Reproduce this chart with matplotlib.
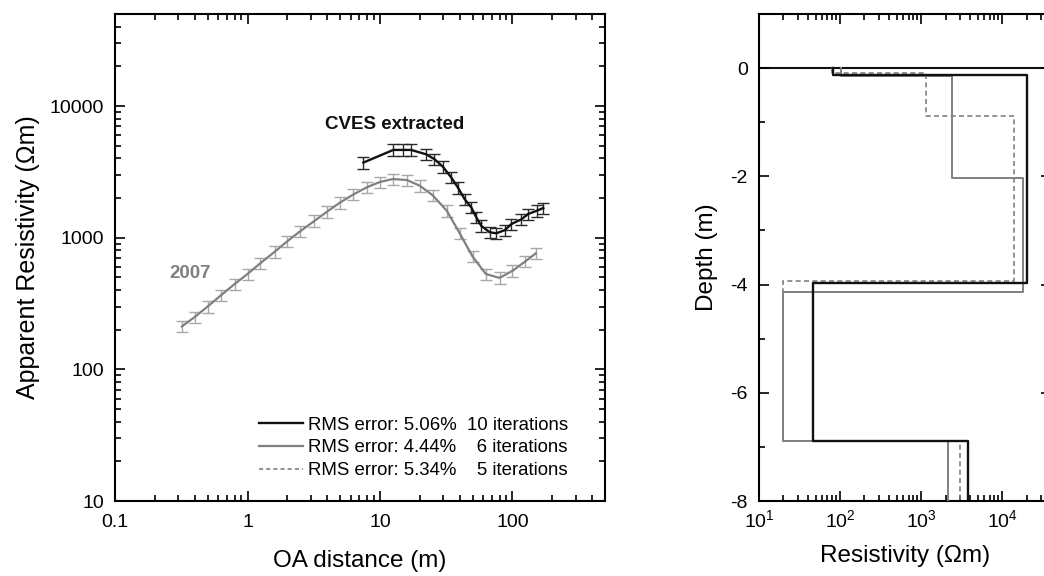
#!/usr/bin/env python3
"""Apparent resistivity sounding curves and inverted layer models."""

import matplotlib
matplotlib.use("Agg")
import matplotlib.pyplot as plt
import numpy as np
from matplotlib.lines import Line2D
from matplotlib.ticker import LogLocator, NullFormatter, FixedLocator

plt.rcParams["font.family"] = ["Liberation Sans", "DejaVu Sans"]
plt.rcParams["axes.unicode_minus"] = False
plt.rcParams["mathtext.fontset"] = "custom"
plt.rcParams["mathtext.rm"] = "Liberation Sans"

# --- sounding curves (left panel) ---
oa_2007 = [0.32, 0.4, 0.5, 0.63, 0.8, 1.0, 1.25, 1.6, 2.0, 2.5, 3.2, 4.0, 5.0, 6.3,
           8.0, 10, 12.5, 16, 20, 25, 32, 40, 50, 63, 80, 100, 125, 150]
rho_2007 = [212, 250, 300, 365, 445, 530, 640, 780, 940, 1120, 1340, 1580, 1850, 2130,
            2420, 2650, 2790, 2740, 2480, 2100, 1600, 1080, 720, 530, 495, 560, 660, 760]

oa_cves = [7.5, 12.6, 14.9, 17.2, 22.3, 25.8, 29.9, 34.5, 38.8, 43.6, 48.9, 53.3,
           58.2, 67.3, 75.6, 87.5, 98.3, 117, 131, 152, 171]
rho_cves = [3720, 4640, 4640, 4640, 4300, 3950, 3450, 2870, 2400, 1960, 1700, 1430,
            1230, 1100, 1080, 1140, 1270, 1380, 1510, 1600, 1680]

err_frac = 0.10

legend_labels = [
    "RMS error: 5.06%  10 iterations",
    "RMS error: 4.44%    6 iterations",
    "RMS error: 5.34%    5 iterations",
]

# --- layered models (right panel) ---
model_cves_rho = [83, 20500, 46, 3800]
model_cves_top = [0, -0.12, -3.97, -6.90]
model_2007_rho = [102, 2430, 18000, 20, 2150]
model_2007_top = [0, -0.15, -2.03, -4.14, -6.90]
model_alt_rho = [79, 1140, 13800, 20, 3000]
model_alt_top = [0, -0.09, -0.88, -3.93, -6.90]
model_bottom = -8.5

BLACK = "#111111"
GRAY = "#808080"
GRAY_ERR = "#a8a8a8"


def step_profile(rho, tops, bottom):
    bottoms = list(tops[1:]) + [bottom]
    xs = np.repeat(rho, 2)
    ys = np.column_stack([tops, bottoms]).ravel()
    return xs, ys


def style_axes(ax):
    for sp in ax.spines.values():
        sp.set_linewidth(1.5)
    ax.tick_params(which="both", direction="in", top=True, right=True,
                   labelsize=14, width=1.2)
    ax.tick_params(which="major", length=7.5)
    ax.tick_params(which="minor", length=4)
    ax.tick_params(axis="x", which="major", pad=9)
    ax.tick_params(axis="y", which="major", pad=8)


fig = plt.figure(figsize=(10.44, 5.76), dpi=100)
ax1 = fig.add_axes([0.1102, 0.1302, 0.4693, 0.8455])
ax2 = fig.add_axes([0.727, 0.1302, 0.2797, 0.8455])

# left panel
rho_2007 = np.array(rho_2007, dtype=float)
rho_cves = np.array(rho_cves, dtype=float)
ax1.errorbar(oa_2007, rho_2007, yerr=rho_2007 * err_frac, fmt="none",
             ecolor=GRAY_ERR, elinewidth=1.0, capsize=4.5, capthick=1.0, zorder=2)
ax1.plot(oa_2007, rho_2007, color=GRAY, lw=1.6, zorder=3)
ax1.errorbar(oa_cves, rho_cves, yerr=rho_cves * err_frac, fmt="none",
             ecolor="#2a2a2a", elinewidth=1.0, capsize=4.5, capthick=1.0, zorder=4)
ax1.plot(oa_cves, rho_cves, color=BLACK, lw=1.7, zorder=5)

ax1.set_xscale("log")
ax1.set_yscale("log")
ax1.set_xlim(0.1, 500)
ax1.set_ylim(10, 50000)
ax1.set_xticks([0.1, 1, 10, 100], ["0.1", "1", "10", "100"])
ax1.set_yticks([10, 100, 1000, 10000], ["10", "100", "1000", "10000"])
ax1.xaxis.set_minor_locator(LogLocator(base=10, subs=np.arange(2, 10)))
ax1.yaxis.set_minor_locator(LogLocator(base=10, subs=np.arange(2, 10)))
ax1.xaxis.set_minor_formatter(NullFormatter())
ax1.yaxis.set_minor_formatter(NullFormatter())
style_axes(ax1)
ax1.set_xlabel("OA distance (m)", fontsize=17.5, labelpad=14)
ax1.set_ylabel("Apparent Resistivity (\u03a9m)", fontsize=18, labelpad=7)

ax1.text(13, 7200, "CVES extracted", fontsize=13.5, fontweight="bold",
         color=BLACK, ha="center", va="center")
ax1.text(0.37, 533, "2007", fontsize=13.5, fontweight="bold",
         color=GRAY, ha="center", va="center")

handles = [
    Line2D([], [], color=BLACK, lw=1.7),
    Line2D([], [], color=GRAY, lw=1.6),
    Line2D([], [], color=GRAY, lw=1.2, ls=(0, (2.5, 1.8))),
]
ax1.legend(handles, legend_labels, loc="lower right", frameon=False,
           bbox_to_anchor=(0.925, 0.045), borderaxespad=0, borderpad=0,
           fontsize=13.4, handlelength=2.4, handletextpad=0.25, labelspacing=0.3)

# right panel
ax2.axhline(0, color=BLACK, lw=1.5, zorder=1)
xs, ys = step_profile(model_alt_rho, model_alt_top, model_bottom)
ax2.plot(xs, ys, color=GRAY, lw=1.2, ls=(0, (3, 2)), zorder=2)
xs, ys = step_profile(model_2007_rho, model_2007_top, model_bottom)
ax2.plot(xs, ys, color=GRAY, lw=1.4, zorder=3)
xs, ys = step_profile(model_cves_rho, model_cves_top, model_bottom)
ax2.plot(xs, ys, color=BLACK, lw=1.7, zorder=4)

ax2.set_xscale("log")
ax2.set_xlim(10, 4.0e4)
ax2.set_ylim(-8, 1)
ax2.set_xticks([10, 100, 1000, 10000])
ax2.xaxis.set_minor_locator(LogLocator(base=10, subs=np.arange(2, 10)))
ax2.xaxis.set_minor_formatter(NullFormatter())
ax2.set_yticks([0, -2, -4, -6, -8])
ax2.yaxis.set_minor_locator(FixedLocator([-1, -3, -5, -7]))
style_axes(ax2)
ax2.tick_params(axis="x", which="major", pad=6)
ax2.set_xlabel("Resistivity (\u03a9m)", fontsize=17.5, labelpad=10)
ax2.set_ylabel("Depth (m)", fontsize=17.5, labelpad=9)

fig.savefig("out.png", dpi=100)
